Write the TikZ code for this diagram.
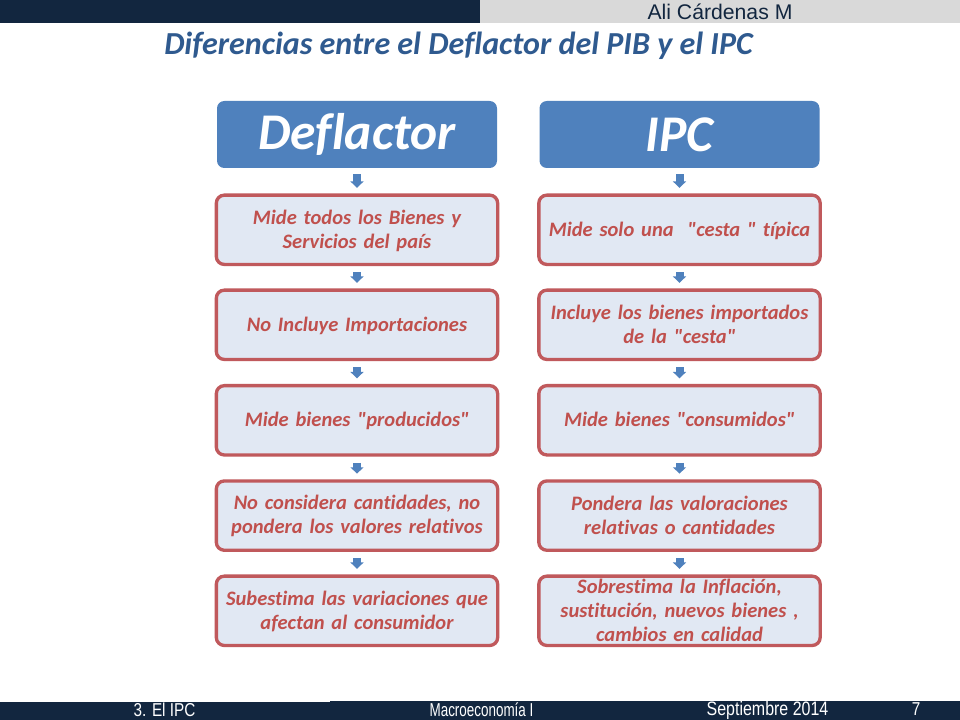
\documentclass[tikz,border=0pt]{standalone}
\usepackage{fontspec}
\newfontfamily\carl{Carlito}[Ligatures=NoCommon]
\newfontfamily\arialf{Liberation Sans}
\newfontfamily\arialn{Liberation Sans}[FakeStretch=0.82]
\newfontfamily\arialnn{Liberation Sans}[FakeStretch=0.72]
\usetikzlibrary{arrows.meta}
\definecolor{navy}{HTML}{12263F}
\definecolor{greybar}{HTML}{D9D9D9}
\definecolor{headblue}{HTML}{4F81BD}
\definecolor{boxfill}{HTML}{E1E8F3}
\definecolor{boxline}{HTML}{C0595C}
\definecolor{boxtext}{HTML}{C0504D}
\definecolor{titleblue}{HTML}{2F5A8F}
\newcommand{\qq}{\symbol{34}}
\tikzset{
  x=0.75pt,y=-0.75pt,
  bar/.style={fill=#1,draw=none},
  headbox/.style={fill=headblue,draw=none,rounded corners=5.5pt,minimum width=210pt,minimum height=50.25pt,inner sep=0pt,text=white,font=\carl\fontsize{38.6}{38.6}\selectfont\bfseries\itshape},
  itembox/.style={fill=boxfill,draw=boxline,line width=2.5pt,rounded corners=6pt,minimum width=211pt,minimum height=52pt,inner sep=0pt,align=center,text=boxtext,text width=208pt,font=\carl\fontsize{15.4}{18}\selectfont\bfseries\itshape,execute at begin node={\rule{0pt}{12pt}},execute at end node={\rule[-2pt]{0pt}{2pt}}},
  flow/.style={draw=headblue,line width=6pt,-{Triangle[length=4.8pt,width=9.6pt]},shorten <=4.6pt,shorten >=4.2pt},
  foot/.style={text=white,inner sep=0pt,anchor=base,font=\arialn\fontsize{14}{14}\selectfont},
}
\begin{document}
\begin{tikzpicture}
\useasboundingbox (0,0) rectangle (960,720);
\fill[white] (0,0) rectangle (960,720);
\fill[bar=navy] (0,0) rectangle (480,23);
\fill[bar=greybar] (480,0) rectangle (960,23);
\fill[bar=navy] (0,702) rectangle (330,720);
\fill[bar=navy] (330,701) rectangle (960,720);
\node[anchor=base,inner sep=0pt,text=navy,font=\arialf\fontsize{15.9}{15.9}\selectfont] (author) at (720,20) {Ali Cárdenas M};
\node[anchor=base,inner sep=0pt,text=titleblue,font=\carl\fontsize{24.05}{24.05}\selectfont\bfseries\itshape] (title) at (458.5,55) {Diferencias entre el Deflactor del PIB y el IPC};
\node[foot] (f1) at (164.5,716) {3. El IPC};
\node[foot,font=\arialnn\fontsize{14}{14}\selectfont] (f2) at (481.5,716) {Macroeconomía I};
\node[foot,font=\arialn\fontsize{14.6}{14.6}\selectfont] (f3) at (767.5,715) {Septiembre 2014};
\node[foot] (f4) at (916,715) {7};

\node[headbox] (dh) at (357,134.5) {Deflactor};
\node[headbox] (ih) at (679.5,134.5) {IPC};

\node[itembox] (d1) at (357,229.8) {Mide todos los Bienes y\\Servicios del país};
\node[itembox] (d2) at (357,324.8) {No Incluye Importaciones};
\node[itembox] (d3) at (357,420.3) {Mide bienes \qq producidos\qq};
\node[itembox] (d4) at (357,515.6) {No considera cantidades, no\\pondera los valores relativos};
\node[itembox] (d5) at (357,610.8) {Subestima las variaciones que\\afectan al consumidor};

\node[itembox] (i1) at (679.5,229.8) {Mide solo una \ \qq cesta \qq\ típica};
\node[itembox] (i2) at (679.5,324.8) {Incluye los bienes importados\\de la \qq cesta\qq};
\node[itembox] (i3) at (679.5,420.3) {Mide bienes \qq consumidos\qq};
\node[itembox] (i4) at (679.5,515.6) {Pondera las valoraciones\\relativas o cantidades};
\node[itembox] (i5) at (679.5,610.8) {Sobrestima la Inflación,\\sustitución, nuevos bienes ,\\cambios en calidad};

\foreach \a/\b in {dh/d1,d1/d2,d2/d3,d3/d4,d4/d5,ih/i1,i1/i2,i2/i3,i3/i4,i4/i5}
  \draw[flow] (\a) -- (\b);
\end{tikzpicture}
\end{document}
